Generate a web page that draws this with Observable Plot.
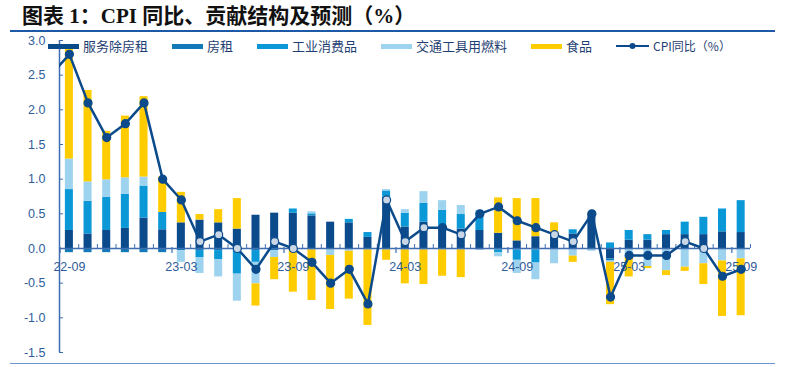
<!DOCTYPE html>
<html><head><meta charset="utf-8">
<script src="https://cdn.jsdelivr.net/npm/d3@7"></script>
<script src="https://cdn.jsdelivr.net/npm/@observablehq/plot@0.6"></script>
<style>
body{margin:0;background:#fff;width:785px;height:367px;position:relative;overflow:hidden;font-family:"Noto Sans CJK SC",sans-serif;}
#title{position:absolute;left:22px;top:3px;font-weight:bold;font-size:21px;font-family:"Liberation Serif","Noto Sans CJK SC",serif;color:#111;white-space:nowrap;line-height:26px;}
#topline{position:absolute;left:10px;top:30px;width:765px;height:2px;background:#1C5AA8;}
#botline{position:absolute;left:10px;top:362.5px;width:765px;height:1.5px;background:#6F95D2;}
#chart{position:absolute;left:0;top:33px;}
#legend{position:absolute;left:48px;top:38px;display:flex;align-items:center;gap:24px;font-size:13px;color:#1F3F73;white-space:nowrap;line-height:16px;}
.item{display:flex;align-items:center;gap:4px;}
.sw{width:31px;height:5px;}
.cpilab{font-size:12px;}
</style>
</head><body>
<div id="title">图表 1：CPI 同比、贡献结构及预测（%）</div>
<div id="topline"></div>
<div id="chart"></div>
<div id="legend"></div>
<div id="botline"></div>
<script>
// ---- data ----
const months = ["22-09","22-10","22-11","22-12","23-01","23-02","23-03","23-04","23-05","23-06","23-07","23-08",
  "23-09","23-10","23-11","23-12","24-01","24-02","24-03","24-04","24-05","24-06","24-07","24-08",
  "24-09","24-10","24-11","24-12","25-01","25-02","25-03","25-04","25-05","25-06","25-07","25-08","25-09"];
const xTickLabels = ["22-09","23-03","23-09","24-03","24-09","25-03","25-09"];
const yTicks = [-1.5,-1.0,-0.5,0.0,0.5,1.0,1.5,2.0,2.5,3.0];

const seriesNames = ["服务除房租","房租","工业消费品","交通工具用燃料","食品"];
const seriesColors = ["#0B4A8B","#1479B8","#0A98D6","#9DD3EE","#FFCC00"];

const services = [0.26,0.21,0.26,0.29,0.44,0.27,0.37,0.41,0.37,0.28,0.48,0.51,0.51,0.47,0.38,0.37,0.16,0.74,0.31,0.38,0.28,0.28,0.26,0.22,0.11,0.17,0.21,0.21,0.50,-0.15,0.12,0.12,0.20,0.20,0.20,0.24,0.23];
const rent = [-0.06,-0.06,-0.06,-0.06,-0.06,-0.06,-0.03,-0.03,-0.03,-0.03,-0.03,-0.03,-0.02,-0.02,-0.02,-0.02,-0.02,-0.02,-0.02,-0.02,-0.02,-0.02,-0.02,-0.02,-0.02,-0.02,-0.02,-0.02,-0.02,-0.03,-0.01,-0.01,-0.01,-0.01,-0.01,-0.01,-0.01];
const industrial = [0.59,0.47,0.48,0.49,0.46,0.25,0,-0.10,-0.13,-0.34,-0.17,0,0.06,0.03,0,0.05,0.07,0.09,0.20,0.27,0.27,0.21,0.26,-0.04,-0.15,-0.19,0,0.06,0,0.08,0.14,0.08,0.06,0.18,0.25,0.33,0.46];
const fuel = [0.44,0.28,0.25,0.24,0.13,0,-0.17,-0.23,-0.25,-0.39,-0.31,-0.10,0,0.03,-0.08,-0.02,0,0.02,0.05,0.17,0.14,0.13,0.03,-0.06,-0.19,-0.24,-0.20,-0.09,-0.02,-0.02,-0.12,-0.25,-0.31,-0.26,-0.21,-0.17,-0.14];
const food = [1.58,1.32,0.70,0.89,1.16,0.51,0.44,0.08,0.19,0.44,-0.32,-0.32,-0.61,-0.73,-0.78,-0.69,-1.09,-0.15,-0.49,-0.50,-0.38,-0.40,0,0.51,0.61,0.55,0.16,-0.09,0.02,-0.61,-0.28,-0.03,-0.07,-0.06,-0.30,-0.80,-0.82];
const cpi = [2.8,2.1,1.6,1.8,2.1,1.0,0.7,0.1,0.2,0.0,-0.3,0.1,0.0,-0.2,-0.5,-0.3,-0.8,0.7,0.1,0.3,0.3,0.2,0.5,0.6,0.4,0.3,0.2,0.1,0.5,-0.7,-0.1,-0.1,-0.1,0.1,0.0,-0.4,-0.3];
const cpiPrev = {month: "22-08", value: 2.5};

// ---- build tables ----
const seriesValues = [services, rent, industrial, fuel, food];
const rows = [];
seriesNames.forEach((s, k) => seriesValues[k].forEach((v, i) => rows.push({s, i, v})));
const cpiRows = [{i: -1, v: cpiPrev.value, svc: 0}].concat(cpi.map((v, i) => ({i, v, svc: services[i]})));
const cpiPts = cpiRows.filter(d => d.i >= 0);
const bounds = months.map((m, i) => i - 0.5).concat([months.length - 0.5]);
const majorBounds = bounds.filter((b, k) => k % 6 === 0);
const minorBounds = bounds.filter((b, k) => k % 6 !== 0);
const xDomain = [-0.53, months.length - 0.5];
const yDomain = [yTicks[0], yTicks[yTicks.length - 1]];
const hw = 0.215;
const navy = "#0B4A8B";
const axisBlue = "#3E6DB0";

const plot = Plot.plot({
  width: 785, height: 330,
  marginLeft: 59, marginRight: 35, marginTop: 7, marginBottom: 11,
  x: {domain: xDomain, axis: null},
  y: {domain: yDomain, ticks: yTicks, tickSize: 0, tickPadding: 14, tickFormat: d => d.toFixed(1), label: null},
  color: {domain: seriesNames, range: seriesColors},
  style: {fontFamily: "Liberation Sans, Arial, sans-serif", fontSize: "12.5px", color: "#2F5D9A", background: "transparent"},
  marks: [
    Plot.rectY(rows, Plot.stackY({x1: d => d.i - hw, x2: d => d.i + hw, y: "v", fill: "s"})),
    Plot.ruleY([0], {stroke: axisBlue, strokeWidth: 1.5}),
    Plot.ruleX(minorBounds, {x: d => d, y1: 0, y2: 0, insetTop: -4, stroke: axisBlue, strokeWidth: 1}),
    Plot.ruleX(majorBounds, {x: d => d, y1: 0, y2: 0, insetTop: -1, insetBottom: -5, stroke: axisBlue, strokeWidth: 1.2}),
    Plot.ruleX([xDomain[0]], {y1: yDomain[0], y2: yDomain[1], stroke: axisBlue, strokeWidth: 1.5}),
    Plot.ruleY(yTicks, {x1: xDomain[0], x2: xDomain[0], insetRight: -4, stroke: axisBlue, strokeWidth: 1}),
    Plot.text(xTickLabels, {x: d => months.indexOf(d), y: 0, dy: 18, text: d => d, fill: "#2F5D9A", fontSize: 12.5}),
    Plot.line(cpiRows, {x: "i", y: "v", stroke: navy, strokeWidth: 2.5, clip: true}),
    Plot.dot(cpiPts, {x: "i", y: "v", r: 4, stroke: navy, strokeWidth: 1.2,
      fill: d => (d.v >= 0 && d.v < d.svc) ? "#C9D6E6" : navy})
  ]
});
document.getElementById("chart").appendChild(plot);

// ---- legend ----
const legend = document.getElementById("legend");
seriesNames.forEach((s, k) => {
  const it = document.createElement("div");
  it.className = "item";
  it.innerHTML = `<div class="sw" style="background:${seriesColors[k]}"></div><span>${s}</span>`;
  legend.appendChild(it);
});
const li = document.createElement("div");
li.className = "item";
li.innerHTML = `<svg width="33" height="10"><line x1="0" y1="5" x2="33" y2="5" stroke="${navy}" stroke-width="2"/><circle cx="16.5" cy="5" r="3" fill="${navy}"/></svg><span class="cpilab">CPI同比（%）</span>`;
legend.appendChild(li);
</script>
</body></html>
